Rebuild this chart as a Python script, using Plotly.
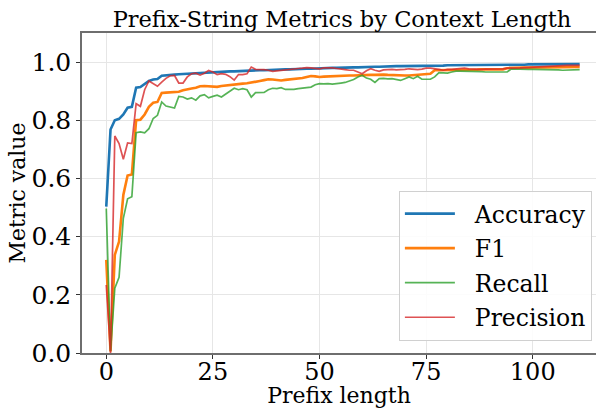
import plotly.graph_objects as go

prefix_len = list(range(112))

accuracy = [
    0.503, 0.768, 0.800, 0.805, 0.820, 0.843, 0.846, 0.912, 0.914, 0.926,
    0.935, 0.940, 0.942, 0.953, 0.955, 0.956, 0.957, 0.958, 0.959, 0.960,
    0.961, 0.962, 0.963, 0.964, 0.965, 0.965, 0.966, 0.967, 0.967, 0.968,
    0.968, 0.969, 0.969, 0.970, 0.971, 0.971, 0.972, 0.972, 0.973, 0.973,
    0.974, 0.974, 0.975, 0.975, 0.976, 0.976, 0.977, 0.977, 0.977, 0.978,
    0.978, 0.979, 0.979, 0.980, 0.980, 0.981, 0.981, 0.982, 0.982, 0.982,
    0.983, 0.983, 0.984, 0.984, 0.984, 0.985, 0.985, 0.985, 0.986, 0.986,
    0.986, 0.987, 0.987, 0.987, 0.987, 0.988, 0.988, 0.988, 0.988, 0.988,
    0.989, 0.989, 0.989, 0.989, 0.989, 0.989, 0.989, 0.989, 0.989, 0.989,
    0.989, 0.989, 0.989, 0.989, 0.991, 0.991, 0.991, 0.991, 0.991, 0.992,
    0.992, 0.992, 0.992, 0.992, 0.992, 0.992, 0.993, 0.993, 0.993, 0.993,
    0.993, 0.993,
]

f1 = [
    0.320, 0.005, 0.337, 0.383, 0.543, 0.610, 0.614, 0.800, 0.802, 0.820,
    0.846, 0.860, 0.863, 0.894, 0.895, 0.896, 0.897, 0.898, 0.903, 0.905,
    0.909, 0.912, 0.917, 0.918, 0.917, 0.916, 0.915, 0.918, 0.920, 0.921,
    0.922, 0.924, 0.926, 0.927, 0.929, 0.932, 0.935, 0.938, 0.941, 0.940,
    0.938, 0.937, 0.939, 0.940, 0.941, 0.943, 0.945, 0.949, 0.952, 0.951,
    0.949, 0.950, 0.951, 0.952, 0.952, 0.952, 0.953, 0.954, 0.954, 0.955,
    0.954, 0.955, 0.956, 0.956, 0.957, 0.957, 0.956, 0.955, 0.955, 0.955,
    0.954, 0.954, 0.955, 0.957, 0.958, 0.959, 0.960, 0.972, 0.972, 0.973,
    0.972, 0.972, 0.973, 0.973, 0.974, 0.974, 0.974, 0.974, 0.975, 0.975,
    0.975, 0.975, 0.975, 0.975, 0.979, 0.980, 0.980, 0.980, 0.981, 0.981,
    0.981, 0.981, 0.981, 0.982, 0.982, 0.982, 0.982, 0.982, 0.983, 0.983,
    0.983, 0.983,
]

recall = [
    0.497, 0.006, 0.223, 0.260, 0.463, 0.530, 0.537, 0.757, 0.760, 0.757,
    0.771, 0.806, 0.817, 0.863, 0.849, 0.846, 0.842, 0.882, 0.880, 0.873,
    0.877, 0.869, 0.884, 0.888, 0.877, 0.882, 0.886, 0.880, 0.891, 0.900,
    0.910, 0.905, 0.909, 0.905, 0.880, 0.895, 0.895, 0.896, 0.905, 0.910,
    0.909, 0.912, 0.906, 0.905, 0.906, 0.909, 0.911, 0.913, 0.914, 0.922,
    0.926, 0.925, 0.926, 0.924, 0.925, 0.928, 0.930, 0.935, 0.940, 0.949,
    0.955, 0.945, 0.941, 0.930, 0.943, 0.944, 0.942, 0.943, 0.940, 0.937,
    0.943, 0.949, 0.943, 0.951, 0.941, 0.941, 0.941, 0.949, 0.964, 0.963,
    0.962, 0.966, 0.969, 0.969, 0.969, 0.968, 0.968, 0.967, 0.967, 0.966,
    0.966, 0.966, 0.966, 0.966, 0.966, 0.977, 0.976, 0.976, 0.976, 0.975,
    0.975, 0.975, 0.975, 0.975, 0.975, 0.974, 0.973, 0.972, 0.972, 0.973,
    0.974, 0.974,
]

precision = [
    0.234, 0.000, 0.746, 0.720, 0.666, 0.722, 0.720, 0.857, 0.848, 0.905,
    0.935, 0.926, 0.917, 0.931, 0.944, 0.953, 0.954, 0.928, 0.928, 0.949,
    0.960, 0.962, 0.955, 0.962, 0.971, 0.966, 0.957, 0.960, 0.958, 0.950,
    0.938, 0.957, 0.957, 0.960, 0.983, 0.975, 0.975, 0.974, 0.972, 0.968,
    0.970, 0.972, 0.974, 0.976, 0.978, 0.978, 0.979, 0.981, 0.980, 0.978,
    0.977, 0.980, 0.981, 0.980, 0.978, 0.977, 0.974, 0.972, 0.972, 0.966,
    0.960, 0.970, 0.977, 0.972, 0.968, 0.973, 0.975, 0.975, 0.973, 0.973,
    0.975, 0.977, 0.975, 0.974, 0.976, 0.979, 0.979, 0.978, 0.975, 0.972,
    0.975, 0.975, 0.976, 0.978, 0.979, 0.977, 0.976, 0.975, 0.975, 0.976,
    0.976, 0.975, 0.976, 0.977, 0.979, 0.979, 0.978, 0.980, 0.981, 0.982,
    0.982, 0.984, 0.983, 0.984, 0.985, 0.987, 0.988, 0.988, 0.989, 0.989,
    0.990, 0.989,
]

series_names = ["Accuracy", "F1", "Recall", "Precision"]
series_values = [accuracy, f1, recall, precision]
series_colors = ["#1f77b4", "#ff7f0e", "rgba(44,160,44,0.8)", "rgba(214,39,40,0.8)"]
series_widths = [2.6, 2.6, 1.7, 1.7]

FONT = "DejaVu Serif"
NB = "\u00a0\u00a0"

fig = go.Figure()
for name, vals, color, w in zip(series_names, series_values, series_colors, series_widths):
    fig.add_trace(go.Scatter(
        x=prefix_len, y=vals, mode="lines", name=NB + name,
        legendgroup=name,
        line=dict(color=color, width=w),
    ))

fig.update_layout(
    width=596, height=408,
    margin=dict(l=82, r=0, t=33, b=55),
    paper_bgcolor="white", plot_bgcolor="white",
    font=dict(family=FONT, color="black"),
    title=dict(
        text="Prefix-String Metrics by Context Length",
        font=dict(family=FONT, size=22.5, color="black"),
        x=342 / 596, xanchor="center", xref="container",
        y=1 - 19 / 408, yanchor="middle", yref="container",
    ),
    showlegend=True,
    legend=dict(
        x=0.992, y=0.038, xanchor="right", yanchor="bottom",
        font=dict(family=FONT, size=23.5, color="black"),
        bgcolor="rgba(255,255,255,0.85)",
        bordercolor="#d0d0d0", borderwidth=1,
        tracegroupgap=1, itemwidth=50,
    ),
)

fig.update_xaxes(
    range=[-5.69, 114.83],
    tickvals=[0, 25, 50, 75, 100],
    ticks="outside", ticklen=4, tickwidth=1.2, tickcolor="#333",
    ticklabelposition="outside", ticklabelstandoff=-8,
    showline=True, linecolor="#6e6e6e", linewidth=1.5, mirror=True,
    showgrid=True, gridcolor="#e6e6e6", gridwidth=1,
    zeroline=False,
    tickfont=dict(family=FONT, size=24, color="black"),
    title=dict(text="Prefix length", font=dict(family=FONT, size=22, color="black"), standoff=7),
)
fig.update_yaxes(
    range=[0, 1.1],
    tickvals=[0, 0.2, 0.4, 0.6, 0.8, 1.0],
    tickformat=".1f",
    ticks="outside", ticklen=4, tickwidth=1.2, tickcolor="#333",
    showline=True, linecolor="#6e6e6e", linewidth=1.5, mirror=False,
    showgrid=True, gridcolor="#e6e6e6", gridwidth=1,
    zeroline=False,
    tickfont=dict(family=FONT, size=25, color="black"),
    title=dict(text="Metric value", font=dict(family=FONT, size=22, color="black"), standoff=0),
)

fig.write_html("out.html")
